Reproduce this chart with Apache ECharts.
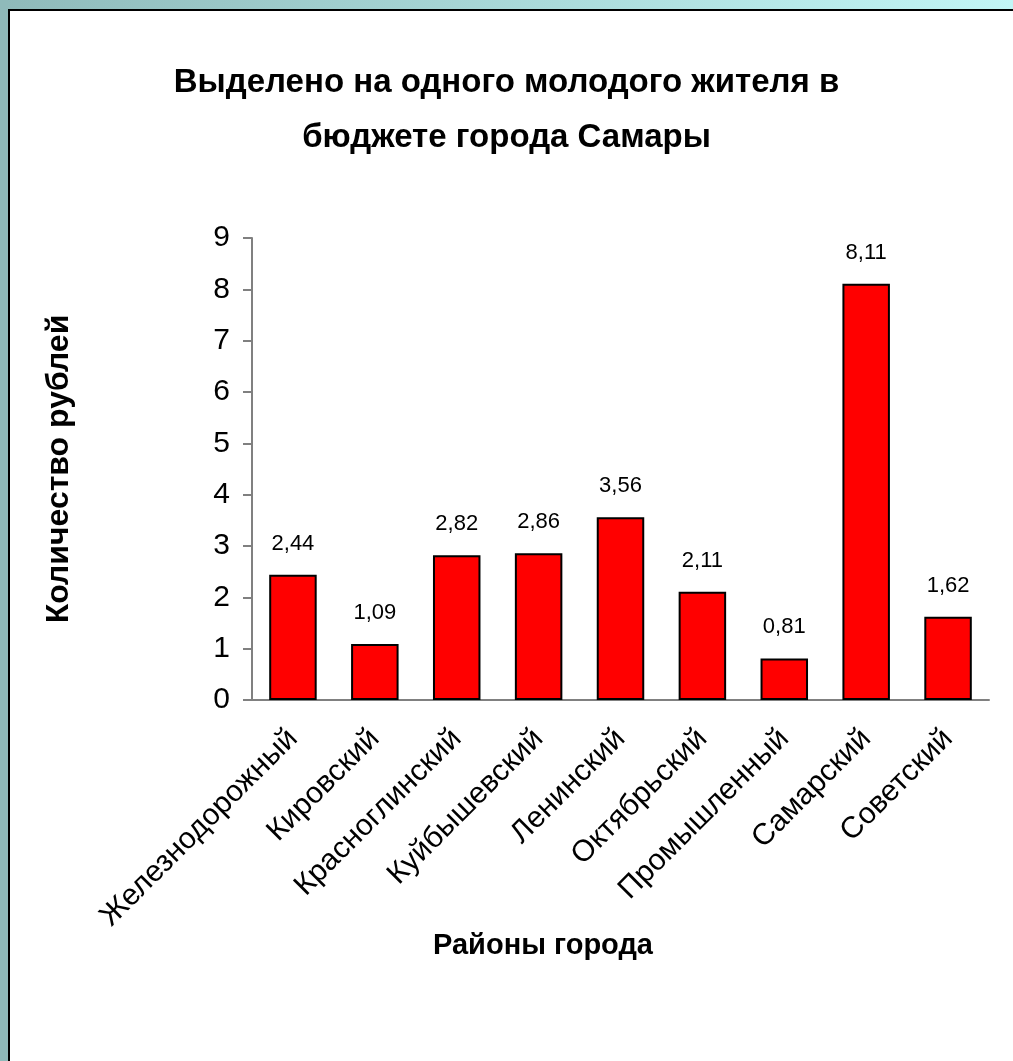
<!DOCTYPE html>
<html>
<head>
<meta charset="utf-8">
<script src="https://cdn.jsdelivr.net/npm/echarts@6/dist/echarts.min.js"></script>
<style>
  html, body { margin: 0; padding: 0; background: #fff; }
  #chart { width: 1013px; height: 1061px; }
</style>
</head>
<body>
<div id="chart"></div>
<script>
// Districts of Samara and the funding per young resident (roubles)
const districts = ['Железнодорожный', 'Кировский', 'Красноглинский', 'Куйбышевский',
  'Ленинский', 'Октябрьский', 'Промышленный', 'Самарский', 'Советский'];
const rublesPerResident = [2.44, 1.09, 2.82, 2.86, 3.56, 2.11, 0.81, 8.11, 1.62];
const yTicks = [0, 1, 2, 3, 4, 5, 6, 7, 8, 9];

const narrow = "'Liberation Sans Narrow', 'Arial Narrow', 'Liberation Sans', Arial, sans-serif";
const sans = "'Liberation Sans', Arial, sans-serif";

const chart = echarts.init(document.getElementById('chart'));
chart.setOption({
  backgroundColor: '#ffffff',
  animation: false,
  title: [
    {
      text: 'Выделено на одного молодого жителя в\nбюджете города Самары',
      left: 'center',
      top: 50,
      textStyle: {
        fontFamily: narrow, fontWeight: 'bold', fontSize: 33,
        lineHeight: 55, color: '#000'
      }
    },
    {
      text: 'Районы города',
      left: 428,
      top: 926,
      textStyle: { fontFamily: sans, fontWeight: 'bold', fontSize: 29, color: '#000' }
    }
  ],
  grid: { left: 252, right: 24, top: 238, bottom: 361, containLabel: false },
  xAxis: {
    type: 'category',
    data: districts,
    axisLine: { lineStyle: { color: '#808080', width: 2 } },
    axisTick: { show: false },
    axisLabel: {
      rotate: 45, interval: 0, margin: 34,
      fontFamily: sans, fontSize: 30, color: '#000'
    }
  },
  yAxis: {
    type: 'value',
    min: 0, max: 9, interval: 1,
    name: 'Количество рублей',
    nameLocation: 'middle',
    nameGap: 177,
    nameRotate: 90,
    nameTextStyle: { fontFamily: sans, fontWeight: 'bold', fontSize: 32, color: '#000' },
    splitLine: { show: false },
    axisLine: { show: true, lineStyle: { color: '#808080', width: 2 } },
    axisTick: { show: true, length: 9, lineStyle: { color: '#808080', width: 2 } },
    axisLabel: {
      margin: 22, fontFamily: narrow, fontSize: 30, color: '#000',
      formatter: v => (yTicks.includes(v) ? String(v) : '')
    }
  },
  series: [{
    type: 'bar',
    data: rublesPerResident,
    barWidth: '58%',
    itemStyle: { color: '#ff0000', borderColor: '#000', borderWidth: 2 },
    label: {
      show: true, position: 'top', distance: 20,
      fontFamily: narrow, fontSize: 22, color: '#000',
      formatter: p => p.value.toFixed(2).replace('.', ',')
    }
  }],
  graphic: [
    {
      type: 'rect', left: 0, top: 0, z: 100,
      shape: { width: 1013, height: 9 },
      style: {
        fill: new echarts.graphic.LinearGradient(0, 0, 1, 0, [
          { offset: 0, color: '#8fbaba' },
          { offset: 1, color: '#c2f6f6' }
        ])
      }
    },
    {
      type: 'rect', left: 0, top: 0, z: 100,
      shape: { width: 8, height: 1061 },
      style: { fill: '#8fbaba' }
    },
    {
      type: 'line', z: 100,
      shape: { x1: 8, y1: 10, x2: 1013, y2: 10 },
      style: { stroke: '#000', lineWidth: 2 }
    },
    {
      type: 'line', z: 100,
      shape: { x1: 9, y1: 9, x2: 9, y2: 1061 },
      style: { stroke: '#000', lineWidth: 2 }
    }
  ]
});
</script>
</body>
</html>
